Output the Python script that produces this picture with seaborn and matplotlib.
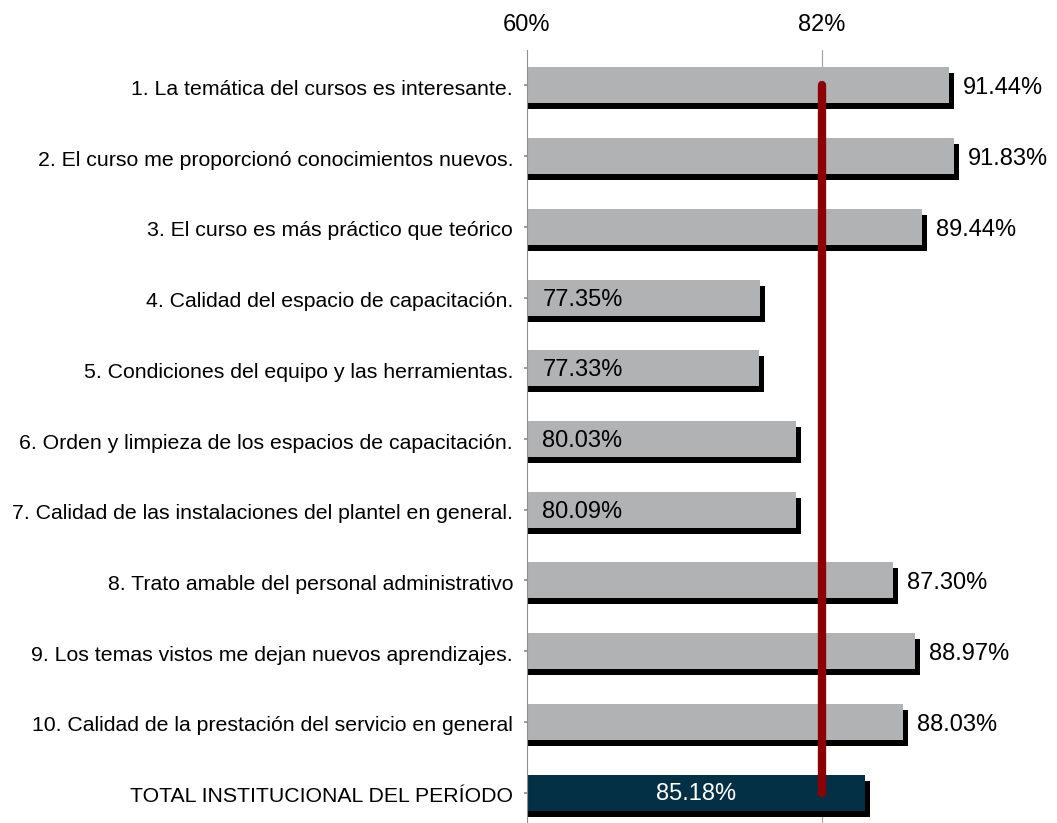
import matplotlib
matplotlib.use("Agg")
import matplotlib.pyplot as plt
import matplotlib.transforms as mtransforms
import seaborn as sns
import pandas as pd

categories = [
    "1. La temática del cursos es interesante.",
    "2. El curso me proporcionó conocimientos nuevos.",
    "3. El curso es más práctico que teórico",
    "4. Calidad del espacio de capacitación.",
    "5. Condiciones del equipo y las herramientas.",
    "6. Orden y limpieza de los espacios de capacitación.",
    "7. Calidad de las instalaciones del plantel en general.",
    "8. Trato amable del personal administrativo",
    "9. Los temas vistos me dejan nuevos aprendizajes.",
    "10. Calidad de la prestación del servicio en general",
    "TOTAL INSTITUCIONAL DEL PERÍODO",
]
values = [91.44, 91.83, 89.44, 77.35, 77.33, 80.03, 80.09, 87.30, 88.97, 88.03, 85.18]
target = 82
tick_values = [60, 82]
tick_labels = ["60%", "82%"]

sns.set_theme(style="white")
plt.rcParams["font.family"] = ["Liberation Sans", "DejaVu Sans"]
plt.rcParams["text.color"] = "black"
plt.rcParams["xtick.color"] = "black"
plt.rcParams["ytick.color"] = "black"

df = pd.DataFrame({"cat": categories, "val": values})
colors = ["#B1B2B4"] * 10 + ["#033044"]

fig = plt.figure(figsize=(10.57, 8.23), dpi=100)
ax = fig.add_axes([527 / 1057, -5 / 823, (1057 - 527) / 1057, 778 / 823])

# shadow bars
sns.barplot(data=df, y="cat", x="val", orient="h", color="black", width=0.51,
            ax=ax, saturation=1, linewidth=0)
n_shadow = len(ax.patches)
offset = mtransforms.ScaledTranslation(5 / 100, -6 / 100, fig.dpi_scale_trans)
for p in ax.patches[:n_shadow]:
    p.set_transform(ax.transData + offset)
    p.set_zorder(1)

sns.barplot(data=df, y="cat", x="val", orient="h", hue="cat", palette=colors,
            legend=False, width=0.51, ax=ax, saturation=1, linewidth=0)
for p in ax.patches[n_shadow:]:
    p.set_zorder(2)

ax.set_xlim(60, 60 + (1057 - 527) / 13.41)
ax.set_ylim(10.5, -0.5)

fs_val = 17
for i, v in enumerate(values):
    txt = f"{v:.2f}%"
    if i == len(values) - 1:
        ax.annotate(txt, ((60 + v) / 2, i), xytext=(0, -1), textcoords="offset points",
                    ha="center", va="center", color="white", fontsize=fs_val, zorder=5)
    elif v > target:
        ax.annotate(txt, (v, i), xytext=(10, -2), textcoords="offset points",
                    ha="left", va="center", fontsize=fs_val, color="black", zorder=5)
    else:
        ax.annotate(txt, (60, i), xytext=(11, -1.5), textcoords="offset points",
                    ha="left", va="center", fontsize=fs_val, color="black", zorder=5)

ax.plot([target, target], [0, len(values) - 1], color="#8B0000", linewidth=6,
        solid_capstyle="round", zorder=4)

ax.axvline(target, color="#A0A0A0", linewidth=0.8, zorder=0)

ax.xaxis.tick_top()
ax.set_xticks(tick_values)
ax.set_xticklabels(tick_labels, fontsize=17)
ax.tick_params(axis="x", length=0, pad=10)
ax.tick_params(axis="y", length=4, color="#909090", direction="inout",
               labelsize=15.3, pad=8, left=True, labelcolor="black")
shift = mtransforms.ScaledTranslation(0, -2 / 100, fig.dpi_scale_trans)
for lab in ax.get_yticklabels():
    lab.set_transform(lab.get_transform() + shift)
ax.set_xlabel("")
ax.set_ylabel("")
for s in ["top", "right", "bottom"]:
    ax.spines[s].set_visible(False)
ax.spines["left"].set_color("#909090")
ax.spines["left"].set_linewidth(0.8)

fig.savefig("out.png", dpi=100)
